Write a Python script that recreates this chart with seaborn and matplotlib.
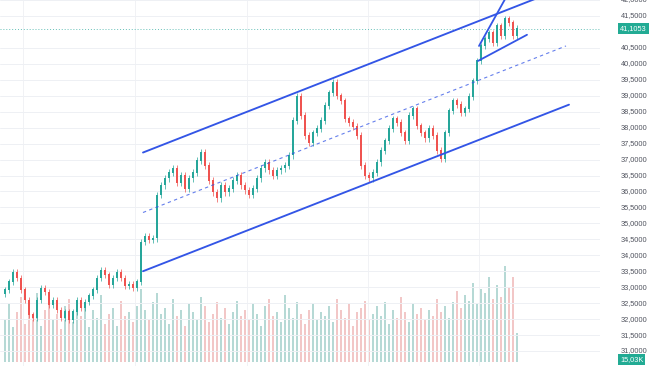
import numpy as np
import pandas as pd
import matplotlib
matplotlib.use("Agg")
import matplotlib.pyplot as plt
import matplotlib.transforms as mtransforms
import seaborn as sns

# ---------------- data ----------------
closes = [
    32.91, 33.16, 33.47, 33.28, 32.91, 32.59, 32.13, 32.03, 32.59, 32.97,
    32.84, 32.44, 32.59, 32.28, 32.03, 32.22, 31.97, 32.22, 32.59, 32.34,
    32.53, 32.72, 32.91, 33.28, 33.53, 33.38, 33.06, 33.28, 33.47, 33.28,
    33.03, 33.09, 32.97, 33.16, 34.41, 34.59, 34.47, 34.53, 35.88, 36.19,
    36.41, 36.59, 36.72, 36.28, 36.50, 36.09, 36.41, 36.59, 36.97, 37.22,
    36.81, 36.34, 35.97, 35.78, 36.19, 35.97, 36.09, 36.34, 36.50, 36.19,
    36.03, 35.88, 36.09, 36.41, 36.72, 36.91, 36.66, 36.50, 36.66, 36.72,
    36.81, 37.13, 38.22, 38.97, 38.38, 37.75, 37.53, 37.84, 37.97, 38.22,
    38.69, 39.09, 39.41, 39.00, 38.84, 38.28, 38.16, 38.03, 37.75, 36.81,
    36.50, 36.41, 36.59, 36.91, 37.28, 37.59, 37.97, 38.28, 38.16, 37.84,
    37.59, 38.38, 38.59, 38.06, 37.84, 37.66, 37.97, 37.75, 37.28, 37.03,
    37.84, 38.53, 38.84, 38.72, 38.47, 38.59, 38.97, 39.47, 40.09, 40.56,
    40.78, 40.97, 40.66, 41.19, 40.88, 41.41, 41.28, 40.88, 41.1053,
]
first_open = 32.80

volumes_k = [
    22, 30, 18, 26, 34, 20, 28, 24, 36, 19, 27, 31, 22, 25, 17, 29, 33, 21, 26, 24,
    30, 18, 27, 23, 35, 20, 25, 28, 19, 32, 24, 26, 21, 29, 38, 27, 22, 31, 36, 25,
    28, 20, 33, 24, 27, 19, 30, 26, 22, 34, 29, 21, 25, 31, 23, 28, 20, 26, 32, 24,
    27, 22, 30, 25, 19, 29, 33, 24, 26, 21, 35, 28, 23, 31, 25, 20, 27, 30, 22, 26,
    24, 29, 21, 33, 27, 23, 30, 19, 26, 28, 32, 22, 25, 29, 24, 31, 20, 27, 23, 34,
    26, 21, 30, 25, 28, 22, 27, 24, 33, 26, 29, 23, 31, 37, 28, 35, 32, 41, 30, 38,
    36, 44, 33, 40, 34, 50, 39, 44, 15.03,
]

price_ticks = [31.0, 31.5, 32.0, 32.5, 33.0, 33.5, 34.0, 34.5, 35.0, 35.5, 36.0,
               36.5, 37.0, 37.5, 38.0, 38.5, 39.0, 39.5, 40.0, 40.5, 41.5, 42.0]
last_price = 41.1053
last_volume_label = "15,03K"

# trend lines (bar index, price)
upper_x, upper_y = [34.5, 141.0], [37.22, 42.45]
lower_x, lower_y = [34.5, 141.0], [33.50, 38.72]
mid_x, mid_y = [34.5, 140.25], [35.34, 40.56]
small_low_x, small_low_y = [118.25, 130.5], [40.09, 40.91]
steep_x, steep_y = [118.5, 126.0], [40.56, 42.25]

# ---------------- style ----------------
sns.set_style("white")
plt.rcParams['font.family'] = ['Liberation Sans', 'DejaVu Sans']

UP = "#26a69a"
DOWN = "#ef5350"
BLUE = "#3355e6"

n = len(closes)
idx = np.arange(n)
opens = [first_open] + closes[:-1]
cl = np.array(closes)
op = np.array(opens)
wick = 0.10
highs = np.maximum(op, cl) + wick
lows = np.minimum(op, cl) - wick
up = cl >= op

fig = plt.figure(figsize=(6.54, 3.66), dpi=100)
ax = fig.add_axes([0, 0, 600 / 654, 1])
axv = ax.twinx()

# volume (behind)
vdf = pd.DataFrame({"i": idx, "v": volumes_k,
                    "dir": np.where(up, "up", "down")})
sns.barplot(data=vdf, x="i", y="v", hue="dir",
            palette={"up": UP, "down": DOWN}, native_scale=True,
            dodge=False, width=0.55, errorbar=None, legend=False,
            alpha=0.36, linewidth=0, ax=axv)
axv.set_ylim(-2, 188)
axv.set_yticks([])
axv.set_ylabel("")
axv.set_xlabel("")
for s in axv.spines.values():
    s.set_visible(False)

ax.set_zorder(axv.get_zorder() + 1)
ax.patch.set_visible(False)

# candles
colors = np.where(up, UP, DOWN)
ax.vlines(idx, lows, highs, colors=colors, linewidth=0.5, zorder=3)
ax.bar(idx, np.abs(cl - op) + 0.02, bottom=np.minimum(op, cl), width=0.55,
       color=colors, linewidth=0, zorder=4)

# channel lines
sns.lineplot(x=upper_x, y=upper_y, ax=ax, color=BLUE, linewidth=1.35, zorder=5)
sns.lineplot(x=lower_x, y=lower_y, ax=ax, color=BLUE, linewidth=1.35, zorder=5)
sns.lineplot(x=mid_x, y=mid_y, ax=ax, color=BLUE, linewidth=0.8, zorder=5,
             linestyle=(0, (3, 3)), alpha=0.75)
sns.lineplot(x=small_low_x, y=small_low_y, ax=ax, color=BLUE, linewidth=1.3, zorder=5)
sns.lineplot(x=steep_x, y=steep_y, ax=ax, color=BLUE, linewidth=1.3, zorder=5)

# last price line
ax.axhline(last_price, color=UP, linewidth=0.7, linestyle=(0, (1, 2)), alpha=0.7, zorder=2)

ax.set_xlim(-1.25, 148.75)
ax.set_ylim(30.53, 41.97)

# grid
ax.set_yticks(price_ticks)
ax.grid(axis='y', color='#eef0f4', linewidth=0.7)
for gx in [4.5, 32.5, 60.5, 90.75, 118.5]:
    ax.axvline(gx, color='#f1f2f5', linewidth=0.7, zorder=0)
ax.tick_params(left=False, right=False, bottom=False, labelleft=False,
               labelright=False, labelbottom=False)
ax.set_xticks([])
ax.set_xlabel("")
ax.set_ylabel("")
for s in ax.spines.values():
    s.set_visible(False)

# right price labels
trans = mtransforms.blended_transform_factory(ax.transAxes, ax.transData)
for v in price_ticks:
    ax.text(621 / 600, v, f"{v:.4f}".replace('.', ','), transform=trans,
            ha='left', va='center', fontsize=5.3, color='#50535e', clip_on=False)

ax.text(620 / 600, last_price, f"{last_price:.4f}".replace('.', ','), transform=trans,
        ha='left', va='center', fontsize=5.3, color='white', clip_on=False,
        bbox=dict(boxstyle='square,pad=0.3', fc='#22ab94', ec='none'), zorder=10)
ax.text(620 / 600, 30.74, last_volume_label, transform=trans,
        ha='left', va='center', fontsize=5.3, color='white', clip_on=False,
        bbox=dict(boxstyle='square,pad=0.3', fc='#22ab94', ec='none'), zorder=10)

fig.savefig("out.png", dpi=100)
